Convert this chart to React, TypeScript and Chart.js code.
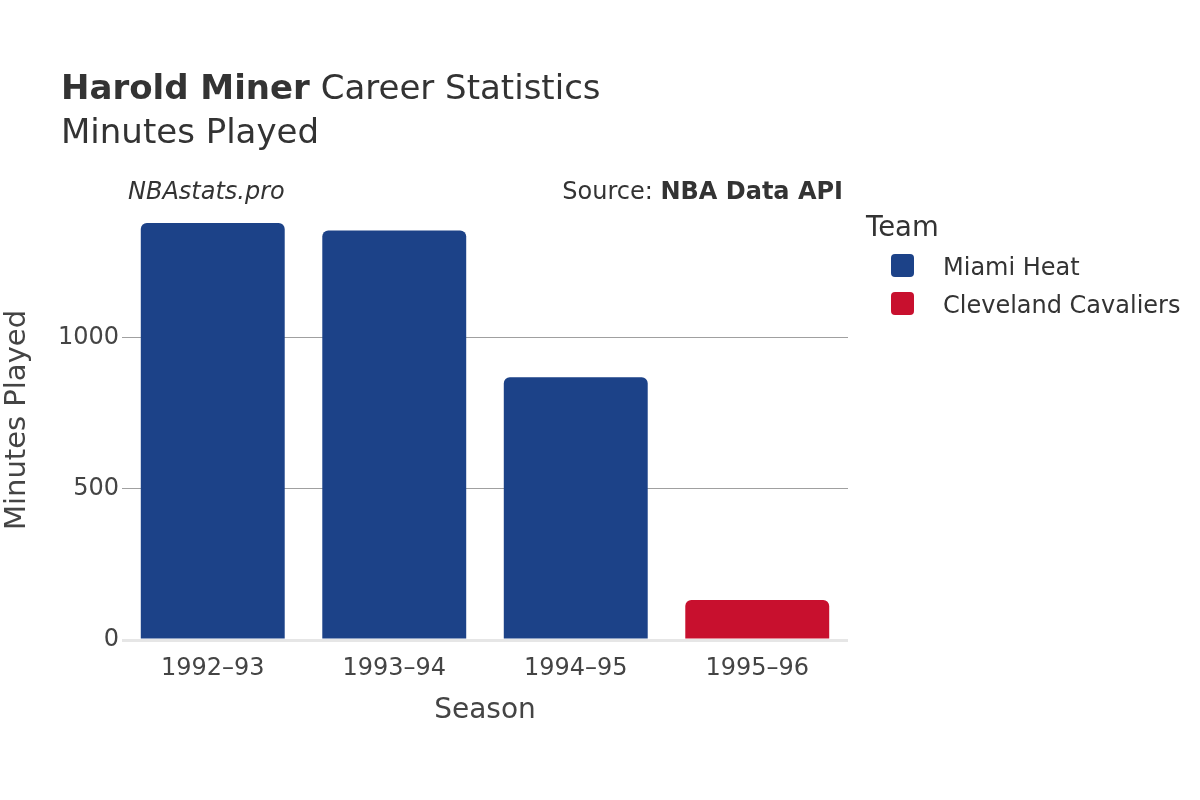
import React, { useEffect, useRef } from "react";
import { Chart, registerables } from "chart.js";

Chart.register(...registerables);

const seasons = ["1992–93", "1993–94", "1994–95", "1995–96"];
const teams = ["Miami Heat", "Cleveland Cavaliers"];
const teamColors = ["#1c4288", "#c8102e"];
const miamiMinutes = [1378, 1353, 868, null];
const clevelandMinutes = [null, null, null, 132];
const yTicks = [0, 500, 1000];

const playerName = "Harold Miner";
const titleRest = " Career Statistics";
const subtitle = "Minutes Played";
const watermark = "NBAstats.pro";
const sourceLabel = "Source: ";
const sourceName = "NBA Data API";
const legendTitle = "Team";
const xTitle = "Season";
const yTitle = "Minutes Played";

const FONT = "'DejaVu Sans', sans-serif";
const TEXT = "#333333";

const overlayPlugin = {
  id: "overlay",
  afterDraw(chart: any) {
    const ctx = chart.ctx as CanvasRenderingContext2D;
    ctx.save();
    ctx.fillStyle = TEXT;
    ctx.textBaseline = "alphabetic";
    ctx.textAlign = "left";
    // Title
    ctx.font = `bold 34px ${FONT}`;
    ctx.fillText(playerName, 61, 99);
    const w = ctx.measureText(playerName).width;
    ctx.font = `34px ${FONT}`;
    ctx.fillText(titleRest, 61 + w, 99);
    ctx.fillText(subtitle, 61, 143);
    // Watermark
    ctx.font = `italic 24px ${FONT}`;
    ctx.fillText(watermark, 128, 199);
    // Source
    ctx.textAlign = "right";
    ctx.font = `bold 24px ${FONT}`;
    const bw = ctx.measureText(sourceName).width;
    ctx.fillText(sourceName, 843, 199);
    ctx.font = `24px ${FONT}`;
    ctx.fillText(sourceLabel, 843 - bw, 199);
    // Legend
    ctx.textAlign = "left";
    ctx.font = `27.5px ${FONT}`;
    ctx.fillText(legendTitle, 866, 236);
    ctx.font = `24px ${FONT}`;
    teams.forEach((t, i) => {
      const y0 = 254 + i * 38;
      ctx.fillStyle = teamColors[i];
      ctx.beginPath();
      (ctx as any).roundRect(891, y0, 23, 23, 4);
      ctx.fill();
      ctx.fillStyle = TEXT;
      ctx.fillText(t, 943, y0 + 21);
    });
    ctx.restore();
  },
};

export default function App() {
  const ref = useRef<HTMLCanvasElement | null>(null);
  useEffect(() => {
    if (!ref.current) return;
    const chart = new Chart(ref.current, {
      type: "bar",
      data: {
        labels: seasons,
        datasets: [
          {
            label: teams[0],
            data: miamiMinutes as any,
            backgroundColor: teamColors[0],
            borderRadius: 6,
            borderSkipped: "start",
          },
          {
            label: teams[1],
            data: clevelandMinutes as any,
            backgroundColor: teamColors[1],
            borderRadius: 6,
            borderSkipped: "start",
          },
        ],
      },
      options: {
        responsive: false,
        animation: false,
        devicePixelRatio: 1,
        layout: { padding: { top: 200, right: 352, left: 0, bottom: 0 } },
        datasets: { bar: { barPercentage: 0.793, categoryPercentage: 1 } },
        plugins: { legend: { display: false }, tooltip: { enabled: false } },
        scales: {
          x: {
            stacked: true,
            grid: { display: false },
            border: { display: false },
            ticks: { color: "#444", font: { family: FONT, size: 24 }, padding: 6, maxRotation: 0 },
            title: {
              display: true,
              text: xTitle,
              color: "#444",
              font: { family: FONT, size: 28 },
              padding: { top: 0, bottom: 72 },
            },
            afterFit: (s: any) => {
              s.height = 160;
            },
          },
          y: {
            stacked: true,
            min: 0,
            max: 1454,
            afterBuildTicks: (s: any) => {
              s.ticks = yTicks.map((v) => ({ value: v }));
            },
            grid: {
              drawTicks: false,
              color: (c: any) => (c.tick && c.tick.value === 0 ? "#e6e6e6" : "#a0a0a0"),
              lineWidth: (c: any) => (c.tick && c.tick.value === 0 ? 3 : 1),
            },
            border: { display: false },
            ticks: {
              color: "#444",
              font: { family: FONT, size: 24 },
              padding: 3,
              callback: (v: any) => String(v),
            },
            title: {
              display: true,
              text: yTitle,
              color: "#444",
              font: { family: FONT, size: 29 },
              padding: { top: 0, bottom: 0 },
            },
            afterFit: (s: any) => {
              s.width = 122;
            },
          },
        },
      },
      plugins: [overlayPlugin],
    });
    return () => chart.destroy();
  }, []);
  return (
    <div style={{ position: "absolute", left: 0, top: 0, width: 1200, height: 800, background: "#fff" }}>
      <canvas ref={ref} width={1200} height={800} />
    </div>
  );
}
